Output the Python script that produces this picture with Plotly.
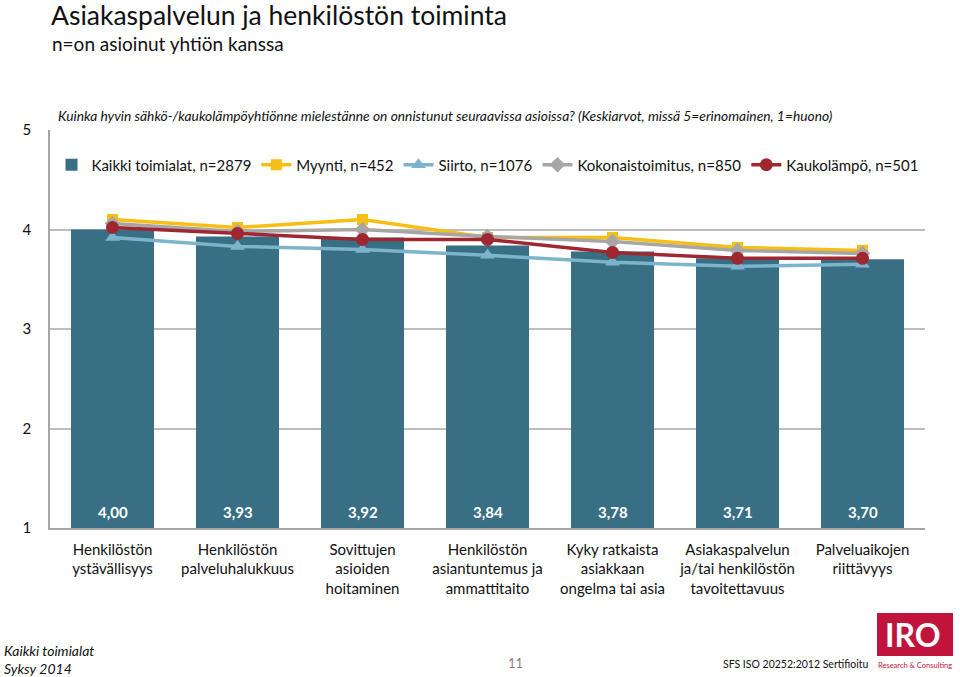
import plotly.graph_objects as go

categories = [
    "Henkilöstön<br>ystävällisyys",
    "Henkilöstön<br>palveluhalukkuus",
    "Sovittujen<br>asioiden<br>hoitaminen",
    "Henkilöstön<br>asiantuntemus ja<br>ammattitaito",
    "Kyky ratkaista<br>asiakkaan<br>ongelma tai asia",
    "Asiakaspalvelun<br>ja/tai henkilöstön<br>tavoitettavuus",
    "Palveluaikojen<br>riittävyys",
]
kaikki = [4.00, 3.93, 3.92, 3.84, 3.78, 3.71, 3.70]
myynti = [4.10, 4.02, 4.10, 3.92, 3.92, 3.82, 3.79]
siirto = [3.92, 3.83, 3.80, 3.74, 3.67, 3.63, 3.65]
kokonais = [4.06, 3.98, 4.00, 3.93, 3.88, 3.79, 3.76]
kaukolampo = [4.02, 3.96, 3.90, 3.90, 3.77, 3.71, 3.71]
y_ticks = [1, 2, 3, 4, 5]

FONT = "Lato, Carlito, sans-serif"
BAR_C = "#386F84"
YEL = "#F7BE14"
BLU = "#7CB5CB"
GRY = "#A6A6A6"
RED = "#9E2731"

fig = go.Figure()
fig.add_trace(go.Bar(x=categories, y=kaikki, name="Kaikki toimialat, n=2879",
                     marker=dict(color=BAR_C, line=dict(width=0))))
fig.add_trace(go.Scatter(x=categories, y=myynti, name="Myynti, n=452", mode="lines+markers",
                         line=dict(color=YEL, width=3.5),
                         marker=dict(symbol="square", size=11, color=YEL)))
fig.add_trace(go.Scatter(x=categories, y=siirto, name="Siirto, n=1076", mode="lines+markers",
                         line=dict(color=BLU, width=3.5),
                         marker=dict(symbol="triangle-up", size=13, color=BLU)))
fig.add_trace(go.Scatter(x=categories, y=kokonais, name="Kokonaistoimitus, n=850", mode="lines+markers",
                         line=dict(color=GRY, width=3.5),
                         marker=dict(symbol="diamond", size=12, color=GRY)))
fig.add_trace(go.Scatter(x=categories, y=kaukolampo, name="Kaukolämpö, n=501", mode="lines+markers",
                         line=dict(color=RED, width=3.5),
                         marker=dict(symbol="circle", size=13, color=RED)))

annotations = []
for c, v in zip(categories, kaikki):
    annotations.append(dict(x=c, y=1.16, xref="x", yref="y", text=f"<b>{v:.2f}</b>".replace(".", ","),
                            showarrow=False, font=dict(color="white", size=15, family=FONT)))


def paper_x(px):
    return (px - 50) / 875


def paper_y(py):
    return (528 - py) / 398


annotations += [
    dict(x=paper_x(49), y=paper_y(15), xref="paper", yref="paper", xanchor="left", yanchor="middle",
         text="Asiakaspalvelun ja henkilöstön toiminta", showarrow=False,
         font=dict(size=26.5, color="#111111", family=FONT)),
    dict(x=paper_x(50), y=paper_y(43), xref="paper", yref="paper", xanchor="left", yanchor="middle",
         text="n=on asioinut yhtiön kanssa", showarrow=False,
         font=dict(size=19, color="#111111", family=FONT)),
    dict(x=paper_x(56), y=paper_y(115), xref="paper", yref="paper", xanchor="left", yanchor="middle",
         text="<i>Kuinka hyvin sähkö-/kaukolämpöyhtiönne mielestänne on onnistunut seuraavissa asioissa? (Keskiarvot, missä 5=erinomainen, 1=huono)</i>",
         showarrow=False, font=dict(size=13.8, color="#111111", family=FONT)),
    dict(x=paper_x(2), y=paper_y(650), xref="paper", yref="paper", xanchor="left", yanchor="middle",
         text="<i>Kaikki toimialat</i>", showarrow=False, font=dict(size=14, color="#111111", family=FONT)),
    dict(x=paper_x(2), y=paper_y(668), xref="paper", yref="paper", xanchor="left", yanchor="middle",
         text="<i>Syksy 2014</i>", showarrow=False, font=dict(size=14, color="#111111", family=FONT)),
    dict(x=paper_x(515), y=paper_y(663), xref="paper", yref="paper", xanchor="center", yanchor="middle",
         text="11", showarrow=False, font=dict(size=13, color="#7F7F7F", family=FONT)),
    dict(x=paper_x(870), y=paper_y(664), xref="paper", yref="paper", xanchor="right", yanchor="middle",
         text="SFS ISO 20252:2012 Sertifioitu", showarrow=False, font=dict(size=10.5, color="#111111", family=FONT)),
    dict(x=paper_x(913), y=paper_y(634), xref="paper", yref="paper", xanchor="center", yanchor="middle",
         text="<b>IRO</b>", showarrow=False, font=dict(size=32, color="white", family=FONT)),
    dict(x=paper_x(915), y=paper_y(665), xref="paper", yref="paper", xanchor="center", yanchor="middle",
         text="Research &amp; Consulting", showarrow=False, font=dict(size=7.5, color="#C0143C", family=FONT)),
]

shapes = [
    dict(type="rect", xref="paper", yref="paper", x0=paper_x(877), x1=paper_x(953),
         y0=paper_y(656), y1=paper_y(613), fillcolor="#C0143C", line=dict(width=0), layer="below"),
]

fig.update_layout(
    width=960, height=677,
    margin=dict(l=50, r=35, t=130, b=149),
    paper_bgcolor="white", plot_bgcolor="white",
    font=dict(family=FONT, size=15, color="#111111"),
    bargap=0.336,
    showlegend=True,
    legend=dict(orientation="h", x=0.5, xanchor="center", y=paper_y(165), yanchor="middle",
                font=dict(size=15, family=FONT), bgcolor="rgba(0,0,0,0)",
                traceorder="normal"),
    xaxis=dict(showgrid=False, showline=True, linecolor="#A6A6A6", linewidth=1.5,
               ticks="", ticklabelstandoff=7,
               tickfont=dict(size=15, family=FONT, color="#111111"), fixedrange=True),
    yaxis=dict(range=[1, 5], tickvals=y_ticks, showgrid=True, gridcolor="#BDBDBD", gridwidth=1.5,
               showline=True, linecolor="#A6A6A6", linewidth=1.5, zeroline=False, ticks="",
               ticklabelstandoff=14, tickfont=dict(size=15, family=FONT, color="#111111")),
    annotations=annotations,
    shapes=shapes,
)

fig.write_html("out.html", config={"displayModeBar": False},
               post_script="document.body.style.margin='0';document.body.style.overflow='hidden';")
